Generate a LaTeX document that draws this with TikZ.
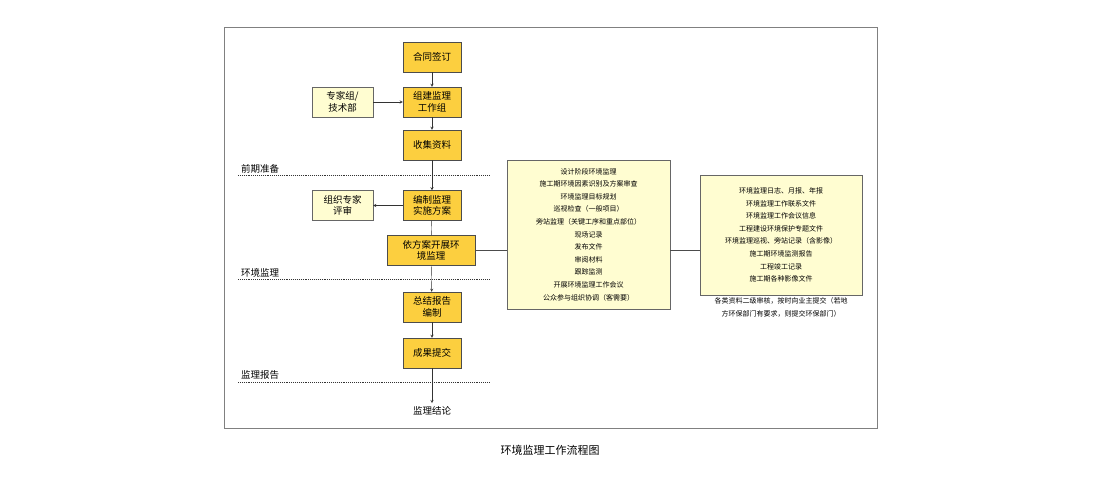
\documentclass[tikz,border=0pt]{standalone}
\usepackage{fontspec}
\setmainfont{Noto Sans CJK SC}
\begin{document}
\begin{tikzpicture}[x=1pt,y=-1pt,
  gold/.style={draw=black!70,fill=yellow!55!orange!75!white,minimum width=58pt,minimum height=30pt,align=center,font=\fontsize{9.5}{11.5}\selectfont,inner sep=1pt},
  pale/.style={draw=black!60,fill=yellow!18,minimum width=61pt,minimum height=30pt,align=center,font=\fontsize{9.5}{11.5}\selectfont,inner sep=1pt},
  listbox/.style={draw=black!60,fill=yellow!18,align=center,font=\fontsize{7}{12.6}\selectfont,inner sep=2pt},
  arr/.style={->,>=stealth,black!80},
  sep/.style={black!80,densely dotted,line width=0.9pt},
  lbl/.style={font=\fontsize{9.5}{11}\selectfont,anchor=south west,inner sep=1pt}]
\useasboundingbox (0,0) rectangle (1100,477);
\draw[black!50] (224,27) rectangle (877,428);
\node (cap) at (550,450) {\fontsize{11}{13}\selectfont 环境监理工作流程图};
\node[gold] (a) at (432,57) {合同签订};
\node[gold] (b) at (432,102) {组建监理\\工作组};
\node[pale] (e) at (342.5,102) {专家组/\\技术部};
\node[gold] (c) at (432,145) {收集资料};
\node[gold] (d) at (432,205.5) {编制监理\\实施方案};
\node[pale] (f) at (342.5,205.5) {组织专家\\评审};
\node[gold,minimum width=88pt] (g) at (431,250.5) {依方案开展环\\境监理};
\node[gold] (h) at (432,307) {总结报告\\编制};
\node[gold] (i) at (432,353) {成果提交};
\node (j) at (432,411) {\fontsize{9.5}{11}\selectfont 监理结论};
\node[listbox,minimum width=163pt,minimum height=149pt] (m) at (588.5,234.5) {设计阶段环境监理\\施工期环境因素识别及方案审查\\环境监理目标规划\\巡视检查（一般项目）\\旁站监理（关键工序和重点部位）\\现场记录\\发布文件\\审阅材料\\跟踪监测\\开展环境监理工作会议\\公众参与组织协调（客需要）};
\node[listbox,minimum width=162pt,minimum height=120pt] (r) at (781,235) {环境监理日志、月报、年报\\环境监理工作联系文件\\环境监理工作会议信息\\工程建设环境保护专题文件\\环境监理巡视、旁站记录（含影像）\\施工期环境监测报告\\工程竣工记录\\施工期各种影像文件};
\node[font=\fontsize{7}{12.5}\selectfont,align=center,anchor=north] (n) at (781,294) {各类资料二级审核，按时向业主提交（若地\\方环保部门有要求，则提交环保部门）};
\draw[sep] (238,175) -- (490,175);
\draw[sep] (238,279) -- (490,279);
\draw[sep] (238,382) -- (490,382);
\node[lbl] at (240,174) {前期准备};
\node[lbl] at (240,278) {环境监理};
\node[lbl] at (240,381) {监理报告};
\draw[arr] (a) -- (b);
\draw[arr] (e) -- (b);
\draw[arr] (b) -- (c);
\draw[arr] (c) -- (d);
\draw[arr] (d) -- (f);
\draw[black!80] (d) -- (g);
\draw[arr] (g) -- (h);
\draw[arr] (h) -- (i);
\draw[arr] (i) -- (j);
\draw[black!70] (g.east) -- (m.west |- g.east);
\draw[black!70] (m.east |- g.east) -- (r.west |- g.east);
\end{tikzpicture}
\end{document}
